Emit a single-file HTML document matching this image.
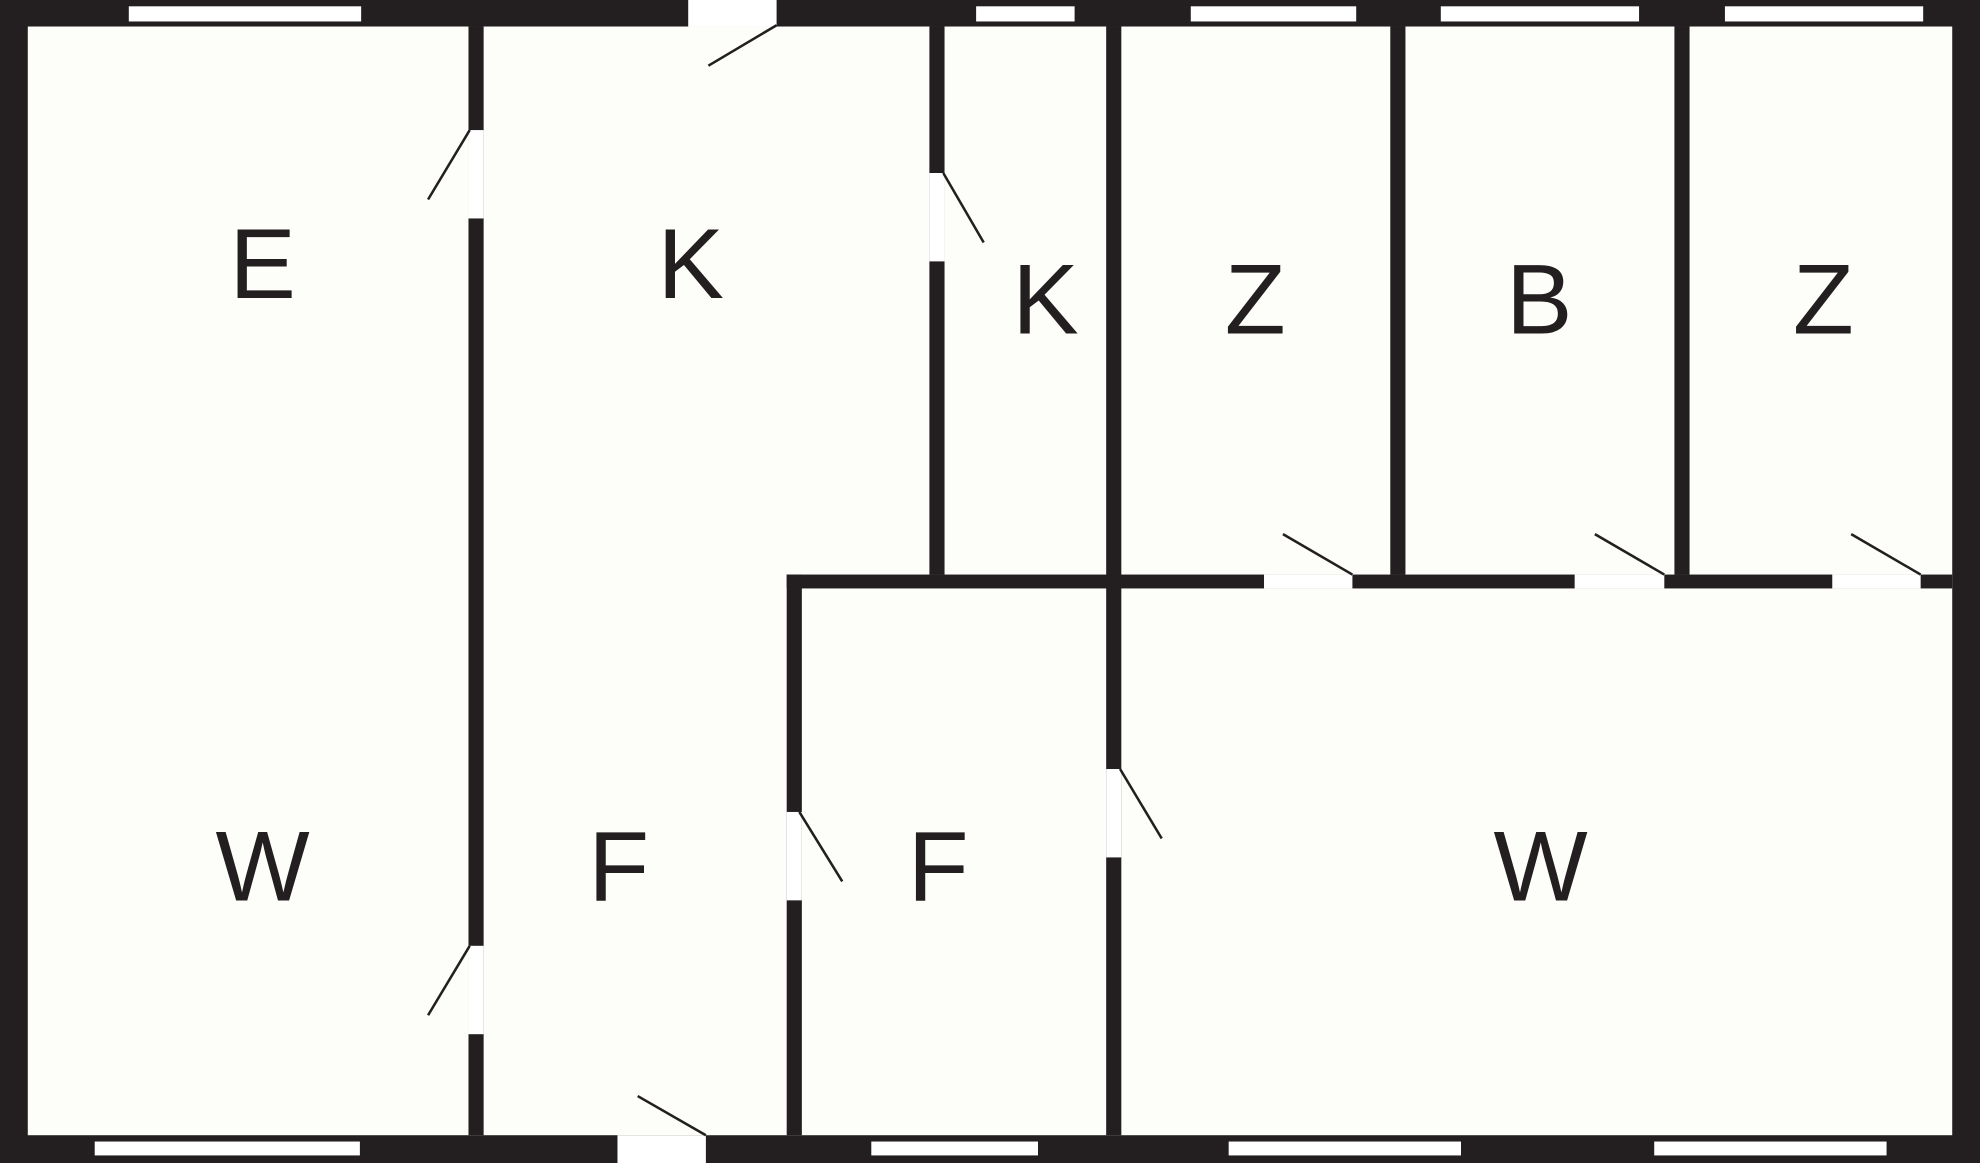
<!DOCTYPE html>
<html><head><meta charset="utf-8"><style>
html,body{margin:0;padding:0;background:#fdfdf9}
svg{display:block}
text{font-family:"Liberation Sans",sans-serif;font-size:79px;fill:#231f20;text-anchor:middle}
</style></head><body>
<svg width="1980" height="1163" viewBox="0 0 1568 921" preserveAspectRatio="none">
<rect x="0" y="0" width="1568" height="921" fill="#231f20"/>
<rect x="22" y="21" width="1524" height="878" fill="#fdfdf9"/>
<g fill="#231f20">
<rect x="371" y="21" width="12" height="878"/>
<rect x="736" y="21" width="12" height="434"/>
<rect x="876" y="21" width="12" height="878"/>
<rect x="1101" y="21" width="12" height="434"/>
<rect x="1326" y="21" width="12" height="434"/>
<rect x="623" y="455" width="923" height="11"/>
<rect x="623" y="455" width="12" height="444"/>
</g>
<g fill="#fff">
<rect x="102" y="5" width="184" height="12"/>
<rect x="773" y="5" width="78" height="12"/>
<rect x="943" y="5" width="131" height="12"/>
<rect x="1141" y="5" width="157" height="12"/>
<rect x="1366" y="5" width="157" height="12"/>
<rect x="75" y="904" width="210" height="11"/>
<rect x="690" y="904" width="132" height="11"/>
<rect x="973" y="904" width="184" height="11"/>
<rect x="1310" y="904" width="184" height="11"/>
<rect x="545" y="0" width="70" height="21"/>
<rect x="489" y="899" width="70" height="22"/>
<rect x="371" y="103" width="12" height="70"/>
<rect x="371" y="749" width="12" height="70"/>
<rect x="736" y="137" width="12" height="70"/>
<rect x="623" y="643" width="12" height="70"/>
<rect x="876" y="609" width="12" height="70"/>
<rect x="1001" y="455" width="70" height="11"/>
<rect x="1247" y="455" width="71" height="11"/>
<rect x="1451" y="455" width="70" height="11"/>
</g>
<g stroke="#231f20" stroke-width="2" fill="none">
<line x1="615" y1="20" x2="561" y2="52"/>
<line x1="559" y1="899" x2="505" y2="868"/>
<line x1="372" y1="103" x2="339" y2="158"/>
<line x1="372" y1="749" x2="339" y2="804"/>
<line x1="747" y1="137" x2="779" y2="192"/>
<line x1="633" y1="643" x2="667" y2="698"/>
<line x1="887" y1="609" x2="920" y2="664"/>
<line x1="1071" y1="455" x2="1016" y2="423"/>
<line x1="1318" y1="455" x2="1263" y2="423"/>
<line x1="1521" y1="455" x2="1466" y2="423"/>
</g>
<text x="208" y="236">E</text>
<text x="547" y="236">K</text>
<text x="828" y="264">K</text>
<text x="994" y="264">Z</text>
<text x="1219" y="264">B</text>
<text x="1444" y="264">Z</text>
<text x="208" y="713">W</text>
<text x="490" y="713">F</text>
<text x="743" y="713">F</text>
<text x="1220" y="713">W</text>
</svg>
</body></html>
